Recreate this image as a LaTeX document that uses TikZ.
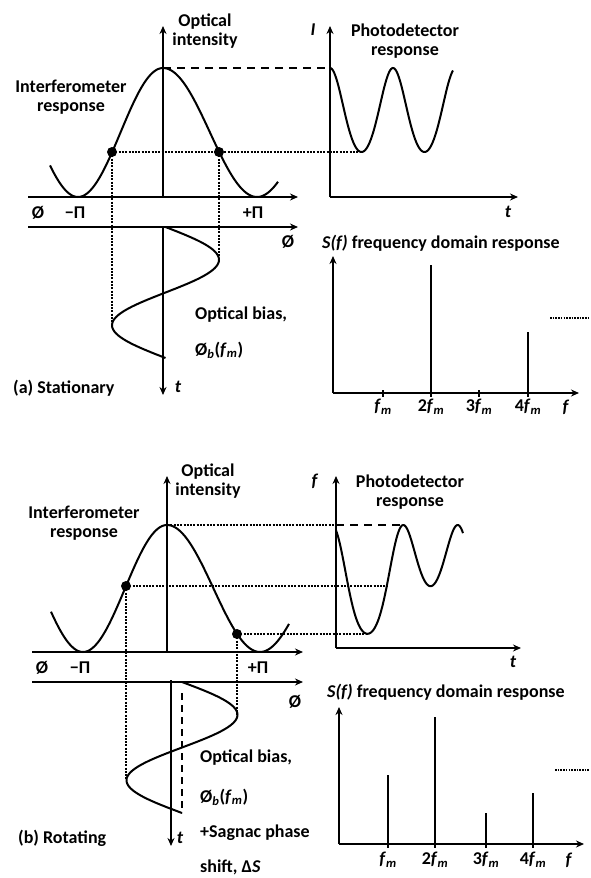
\documentclass[tikz,border=0pt]{standalone}
\usepackage{fontspec}
\setmainfont{Carlito}
\usetikzlibrary{arrows.meta}
\begin{document}
\begin{tikzpicture}[x=1pt,y=-1pt,
  ax/.style={line width=2pt,-{Stealth[length=8pt,width=7pt]}},
  crv/.style={line width=2pt},
  dotl/.style={line width=2.2pt,dash pattern=on 2pt off 1.3pt},
  fdot/.style={line width=1.5pt,dash pattern=on 1.6pt off 1.1pt},
  dashl/.style={line width=1.8pt,dash pattern=on 8pt off 6pt},
  bar/.style={line width=1.8pt},
  tick/.style={line width=1.8pt},
  lab/.style={font=\fontsize{18}{19}\selectfont\bfseries,inner sep=0pt},
  labc/.style={lab,align=center},
  dotpt/.style={circle,fill=black,inner sep=0pt,minimum size=10pt}]
\useasboundingbox (0,0) rectangle (590,878);

%================ PANEL (a) =================
\coordinate (aO) at (163,197);
\coordinate (aYt) at (163,26);
\coordinate (aXl) at (28,197);
\coordinate (aXr) at (298,197);
\coordinate (aX2l) at (28,227);
\coordinate (aX2r) at (298,227);
\coordinate (aT0) at (163,227);
\coordinate (aTb) at (163,395);
\draw[ax] (aO) -- (aYt);
\draw[ax] (aXl) -- (aXr);
\draw[ax] (aX2l) -- (aX2r);
\draw[ax] (aT0) -- (aTb);

% interferometer response
\draw[crv] plot[domain=50:163,samples=70] (\x,{197-64.5*(1+cos((\x-163)/85*180))});
\draw[crv] plot[domain=163:278,samples=70] (\x,{197-64.5*(1+cos((\x-163)/94*180))});

% optical bias (sine)
\draw[crv] plot[domain=227:358,samples=90] ({165.5+53.5*sin((\x-227)/131*360)},\x);

\coordinate (aPk) at (163,68);
\coordinate (aSmin) at (112,325.25);
\coordinate (aSmax) at (219,259.75);
\node[dotpt] (aDL) at (112,152) {};
\node[dotpt] (aDR) at (219,152) {};

% photodetector
\coordinate (aPO) at (330,197);
\coordinate (aPY) at (330,26);
\coordinate (aPX) at (518,197);
\coordinate (aPtop) at (330,68);
\coordinate (aPtr) at (361.5,152);
\draw[ax] (aPO) -- (aPY);
\draw[ax] (aPO) -- (aPX);
\draw[crv] plot[domain=0:123,samples=140] ({330+\x},{197-64.5*(1+cos(107.6*sin(\x/126*360)))});

\draw[dotl] (aDL.center) -- (aSmin);
\draw[dotl] (aDR.center) -- (aSmax);
\draw[dotl] (aDL.center) -- (aPtr);
\draw[dashl] (aPk) -- (aPtop);

% labels
\node[labc] (aOI) at (205,31) {Optical\\intensity};
\node[labc] (aIR) at (71,97) {Interferometer\\response};
\node[labc] (aPR) at (405,41) {Photodetector\\response};
\node[lab] (aIl) at (313,30) {\textit{I}};
\node[lab] (atl) at (508,212) {\textit{t}};
\node[lab] (aph1) at (38,213) {Ø};
\node[lab] (amp) at (75,213) {−Π};
\node[lab] (app) at (253,213) {+Π};
\node[lab] (aph2) at (288,242) {Ø};
\node[lab] (at2) at (178,387) {\textit{t}};
\node[lab,anchor=west] (aob) at (195,315) {Optical bias,};
\node[lab,anchor=west] (aobf) at (195,350) {Ø\textsubscript{\textit{b}}(\textit{f}\textsubscript{\textit{m}})};
\node[lab,anchor=west] (acap) at (13,388) {(a) Stationary};

% spectrum
\coordinate (aSO) at (333,393);
\coordinate (aSY) at (333,256);
\coordinate (aSX) at (579,393);
\draw[ax] (aSO) -- (aSY);
\draw[ax] (aSO) -- (aSX);
\node[lab,anchor=west] (aST) at (322,243) {\textit{S(f)} frequency domain response};
\foreach \xx/\nm in {383/1,431/2,479/3,528/4}{
  \coordinate (aTk\nm) at (\xx,397);
  \draw[tick] (\xx,390) -- (aTk\nm);}
\coordinate (aB2) at (431,265);
\coordinate (aB4) at (528,332);
\draw[bar] (431,393) -- (aB2);
\draw[bar] (528,393) -- (aB4);
\coordinate (aDs) at (550,318);
\coordinate (aDe) at (588,318);
\draw[fdot] (aDs) -- (aDe);
\node[lab,anchor=north] (aF1) at (383,399) {\textit{f}\textsubscript{\textit{m}}};
\node[lab,anchor=north] (aF2) at (431,399) {2\textit{f}\textsubscript{\textit{m}}};
\node[lab,anchor=north] (aF3) at (479,399) {3\textit{f}\textsubscript{\textit{m}}};
\node[lab,anchor=north] (aF4) at (528,399) {4\textit{f}\textsubscript{\textit{m}}};
\node[lab] (aFf) at (566,407) {\textit{f}};

%================ PANEL (b) =================
\coordinate (bO) at (167,652);
\coordinate (bYt) at (167,476);
\coordinate (bXl) at (32,652);
\coordinate (bXr) at (303,652);
\coordinate (bX2l) at (32,682);
\coordinate (bX2r) at (303,682);
\coordinate (bT0) at (171,680);
\coordinate (bTb) at (171,846);
\draw[ax] (bO) -- (bYt);
\draw[ax] (bXl) -- (bXr);
\draw[ax] (bX2l) -- (bX2r);
\draw[ax] (bT0) -- (bTb);

\draw[crv] plot[domain=51:167,samples=70] (\x,{652-63.5*(1+cos((\x-167)/84*180))});
\draw[crv] plot[domain=167:289,samples=70] (\x,{652-63.5*(1+cos((\x-167)/93*180))});

% bias + Sagnac
\coordinate (bDs) at (182,693);
\coordinate (bDe) at (182,813);
\draw[dashl,dash pattern=on 7pt off 5pt] (bDs) -- (bDe);
\draw[crv] plot[domain=682:808,samples=90] ({182+55.5*sin((\x-682)/131*360)},\x) -- (bDe);

\coordinate (bPk) at (167,525);
\coordinate (bSmin) at (126,780.25);
\coordinate (bSmax) at (237,714.75);
\node[dotpt] (bDL) at (126,586) {};
\node[dotpt] (bDR) at (237,634) {};

% photodetector
\coordinate (bPO) at (336,648);
\coordinate (bPY) at (336,476);
\coordinate (bPX) at (521,648);
\coordinate (bPtop) at (336,525);
\coordinate (bPpk) at (403.5,525);
\coordinate (bPc1) at (386.8,586);
\coordinate (bPtr) at (367.5,634);
\draw[ax] (bPO) -- (bPY);
\draw[ax] (bPO) -- (bPX);
\draw[crv] plot[domain=0:127,samples=160] ({336+\x},{652-63.5*(1+cos(23.8+111.7*sin(\x/126*360)))});

\draw[dotl] (bDL.center) -- (bSmin);
\draw[dotl] (bDR.center) -- (bSmax);
\draw[dotl] (bDL.center) -- (bPc1);
\draw[dotl] (bDR.center) -- (bPtr);
\draw[dotl] (bPk) -- (bPtop);
\draw[dashl] (bPtop) -- (bPpk);

% labels
\node[labc] (bOI) at (208,481) {Optical\\intensity};
\node[labc] (bIR) at (84,523) {Interferometer\\response};
\node[labc] (bPR) at (410,492) {Photodetector\\response};
\node[lab] (bIl) at (315,481) {\textit{f}};
\node[lab] (btl) at (513,662) {\textit{t}};
\node[lab] (bph1) at (42,668) {Ø};
\node[lab] (bmp) at (80,668) {−Π};
\node[lab] (bpp) at (258,668) {+Π};
\node[lab] (bph2) at (295,702) {Ø};
\node[lab] (bt2) at (180,838) {\textit{t}};
\node[lab,anchor=west] (bob) at (200,758) {Optical bias,};
\node[lab,anchor=west] (bobf) at (200,797) {Ø\textsubscript{\textit{b}}(\textit{f}\textsubscript{\textit{m}})};
\node[lab,anchor=west] (bsg) at (200,833) {+Sagnac phase};
\node[lab,anchor=west] (bsh) at (200,867) {shift, Δ\textit{S}};
\node[lab,anchor=west] (bcap) at (18,838) {(b) Rotating};

% spectrum
\coordinate (bSO) at (339,844);
\coordinate (bSY) at (339,707);
\coordinate (bSX) at (584,844);
\draw[ax] (bSO) -- (bSY);
\draw[ax] (bSO) -- (bSX);
\node[lab,anchor=west] (bST) at (327,692) {\textit{S(f)} frequency domain response};
\foreach \xx/\nm in {388/1,435/2,486/3,533/4}{
  \coordinate (bTk\nm) at (\xx,848);
  \draw[tick] (\xx,841) -- (bTk\nm);}
\coordinate (bB1) at (388,775);
\coordinate (bB2) at (435,717);
\coordinate (bB3) at (486,813);
\coordinate (bB4) at (533,793);
\draw[bar] (388,844) -- (bB1);
\draw[bar] (435,844) -- (bB2);
\draw[bar] (486,844) -- (bB3);
\draw[bar] (533,844) -- (bB4);
\coordinate (bDs2) at (555,770);
\coordinate (bDe2) at (590,770);
\draw[fdot] (bDs2) -- (bDe2);
\node[lab,anchor=north] (bF1) at (388,852) {\textit{f}\textsubscript{\textit{m}}};
\node[lab,anchor=north] (bF2) at (435,852) {2\textit{f}\textsubscript{\textit{m}}};
\node[lab,anchor=north] (bF3) at (486,852) {3\textit{f}\textsubscript{\textit{m}}};
\node[lab,anchor=north] (bF4) at (533,852) {4\textit{f}\textsubscript{\textit{m}}};
\node[lab] (bFf) at (569,860) {\textit{f}};
\end{tikzpicture}
\end{document}
